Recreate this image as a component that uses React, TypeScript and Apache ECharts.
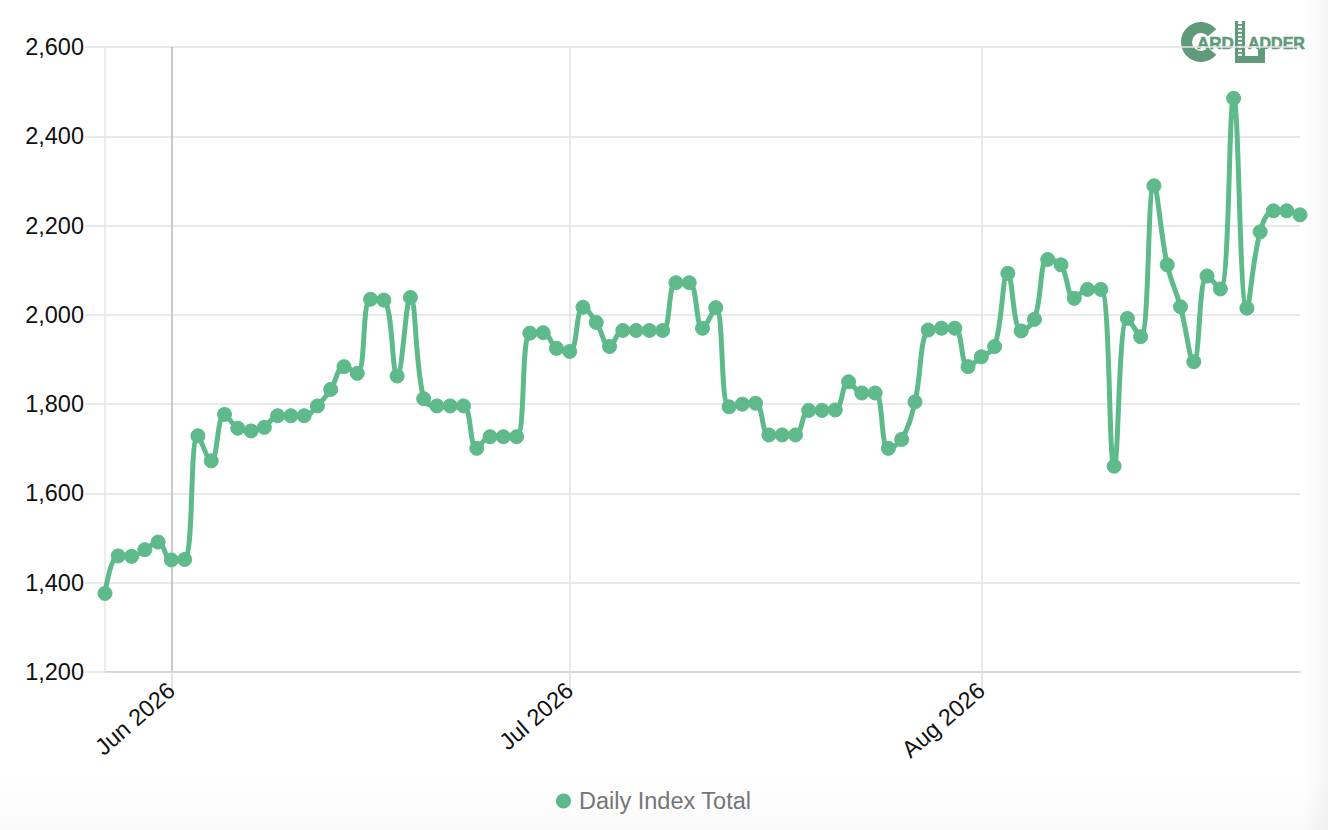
import React, { useEffect, useRef } from 'react';
import * as echarts from 'echarts';

// ---- data ----
const seriesName = 'Daily Index Total';
const firstDay = [2026, 5, 27]; // year, month (1-based), day — one point per day
const indexValues = [
  1376, 1460, 1459, 1474, 1491, 1451, 1452, 1729, 1673, 1777,
  1746, 1740, 1748, 1774, 1774, 1774, 1796, 1833, 1884, 1869,
  2035, 2033, 1863, 2039, 1812, 1796, 1796, 1796, 1701, 1727,
  1727, 1727, 1959, 1960, 1925, 1918, 2017, 1983, 1929, 1965,
  1965, 1965, 1965, 2072, 2072, 1970, 2016, 1794, 1800, 1802,
  1731, 1731, 1731, 1786, 1786, 1787, 1850, 1825, 1825, 1701,
  1721, 1805, 1966, 1970, 1970, 1884, 1906, 1929, 2093, 1964,
  1990, 2124, 2112, 2037, 2057, 2057, 1661, 1992, 1951, 2289,
  2112, 2018, 1895, 2087, 2058, 2485, 2015, 2186, 2233, 2233,
  2224,
];
const monthTickDates = [
  [2026, 6, 1],
  [2026, 7, 1],
  [2026, 8, 1],
];
const monthNames = ['Jan', 'Feb', 'Mar', 'Apr', 'May', 'Jun', 'Jul', 'Aug', 'Sep', 'Oct', 'Nov', 'Dec'];
const yMin = 1200;
const yMax = 2600;
const yStep = 200;

const LINE_GREEN = '#5eba8b';
const LOGO_GREEN = '#5f9b7b';

const dayTime = (y: number, m: number, d: number) => new Date(y, m - 1, d).getTime();
const seriesData = indexValues.map((v, i) => [dayTime(firstDay[0], firstDay[1], firstDay[2] + i), v]);
const monthTicks = monthTickDates.map(([y, m, d]) => dayTime(y, m, d));

export default function App() {
  const ref = useRef<HTMLDivElement>(null);

  useEffect(() => {
    if (!ref.current) return;
    const chart = echarts.init(ref.current, undefined, { renderer: 'svg' });
    const font = '"Liberation Sans", Arial, Helvetica, sans-serif';
    chart.setOption({
      animation: false,
      backgroundColor: 'transparent',
      textStyle: { fontFamily: font },
      grid: {
        left: 105,
        right: 28,
        top: 47,
        bottom: 158,
        containLabel: false,
        outerBoundsMode: 'none',
      },
      legend: {
        data: [{ name: seriesName, icon: 'circle' }],
        left: 551,
        top: 784,
        itemWidth: 13,
        itemHeight: 13,
        textStyle: { color: '#777', fontSize: 23.5, fontFamily: font, padding: [0, 0, 0, 4] },
      },
      xAxis: {
        type: 'value',
        min: seriesData[0][0],
        max: seriesData[seriesData.length - 1][0],
        axisLine: { show: true, lineStyle: { color: '#d2d2d2', width: 1.5 } },
        axisTick: {
          show: true,
          length: 20,
          customValues: monthTicks,
          lineStyle: { color: '#dcdcdc', width: 1.5 },
        },
        axisLabel: {
          customValues: monthTicks,
          rotate: 41,
          margin: 15,
          color: '#111',
          fontSize: 23.5,
          fontFamily: font,
          formatter: (v: number) => {
            const d = new Date(v);
            return monthNames[d.getMonth()] + ' ' + d.getFullYear();
          },
        },
        splitLine: {
          show: true,
          lineStyle: { color: ['#b9b9b9', '#e2e2e2', '#e2e2e2'], width: 1.5 },
        },
      },
      yAxis: {
        type: 'value',
        min: yMin,
        max: yMax,
        interval: yStep,
        axisLine: { show: true, lineStyle: { color: '#e4e4e4', width: 1.5 } },
        axisTick: { show: true, length: 20, lineStyle: { color: '#e2e2e2', width: 1.5 } },
        axisLabel: {
          margin: 21,
          color: '#111',
          fontSize: 23.5,
          fontFamily: font,
          formatter: (v: number) => v.toLocaleString('en-US'),
        },
        splitLine: { show: true, lineStyle: { color: '#e2e2e2', width: 1.5 } },
      },
      series: [
        {
          name: seriesName,
          type: 'line',
          data: seriesData,
          smooth: 0.4,
          symbol: 'circle',
          symbolSize: 14,
          showAllSymbol: true,
          itemStyle: { color: LINE_GREEN, borderColor: LINE_GREEN, borderWidth: 1 },
          lineStyle: { color: LINE_GREEN, width: 5 },
          emphasis: { disabled: true },
        },
      ],
      graphic: [
        {
          type: 'group',
          z: 100,
          children: [
            { type: 'rect', shape: { x: 1178, y: 18, width: 128, height: 50 }, style: { fill: '#ffffff' } },
            {
              type: 'sector',
              shape: { cx: 1201, cy: 42, r: 20, r0: 9, startAngle: (40 * Math.PI) / 180, endAngle: (320 * Math.PI) / 180, clockwise: true },
              style: { fill: LOGO_GREEN },
            },
            {
              type: 'text',
              x: 1197,
              y: 43,
              style: { text: 'ARD', fill: LOGO_GREEN, stroke: LOGO_GREEN, lineWidth: 0.6, font: 'bold 17px ' + font, verticalAlign: 'middle' },
            },
            { type: 'rect', shape: { x: 1235, y: 21, width: 3, height: 37 }, style: { fill: LOGO_GREEN } },
            { type: 'rect', shape: { x: 1242, y: 21, width: 3, height: 37 }, style: { fill: LOGO_GREEN } },
            ...[24, 28, 32, 36, 40, 44, 48, 52].map((yy) => ({
              type: 'rect',
              shape: { x: 1238, y: yy, width: 4, height: 1.8 },
              style: { fill: LOGO_GREEN },
            })),
            { type: 'rect', shape: { x: 1235, y: 56, width: 30, height: 7 }, style: { fill: LOGO_GREEN } },
            { type: 'rect', shape: { x: 1258, y: 49, width: 7, height: 14 }, style: { fill: LOGO_GREEN } },
            {
              type: 'text',
              x: 1248,
              y: 43,
              style: { text: 'ADDER', fill: LOGO_GREEN, stroke: LOGO_GREEN, lineWidth: 0.6, font: 'bold 16px ' + font, verticalAlign: 'middle' },
            },
          ],
        },
      ],
    });
    return () => chart.dispose();
  }, []);

  return (
    <div style={{ position: 'absolute', left: 0, top: 0, width: 1328, height: 830, background: '#fff', overflow: 'hidden' }}>
      <div ref={ref} style={{ position: 'absolute', left: 0, top: 0, width: 1328, height: 830 }} />
      <div
        style={{
          position: 'absolute',
          left: 1304,
          top: 0,
          width: 24,
          height: 830,
          pointerEvents: 'none',
          background: 'linear-gradient(to right, rgba(0,0,0,0), rgba(0,0,0,0.04))',
        }}
      />
      <div
        style={{
          position: 'absolute',
          left: 0,
          top: 775,
          width: 1328,
          height: 55,
          pointerEvents: 'none',
          background: 'linear-gradient(to bottom, rgba(0,0,0,0), rgba(0,0,0,0.025))',
        }}
      />
    </div>
  );
}
